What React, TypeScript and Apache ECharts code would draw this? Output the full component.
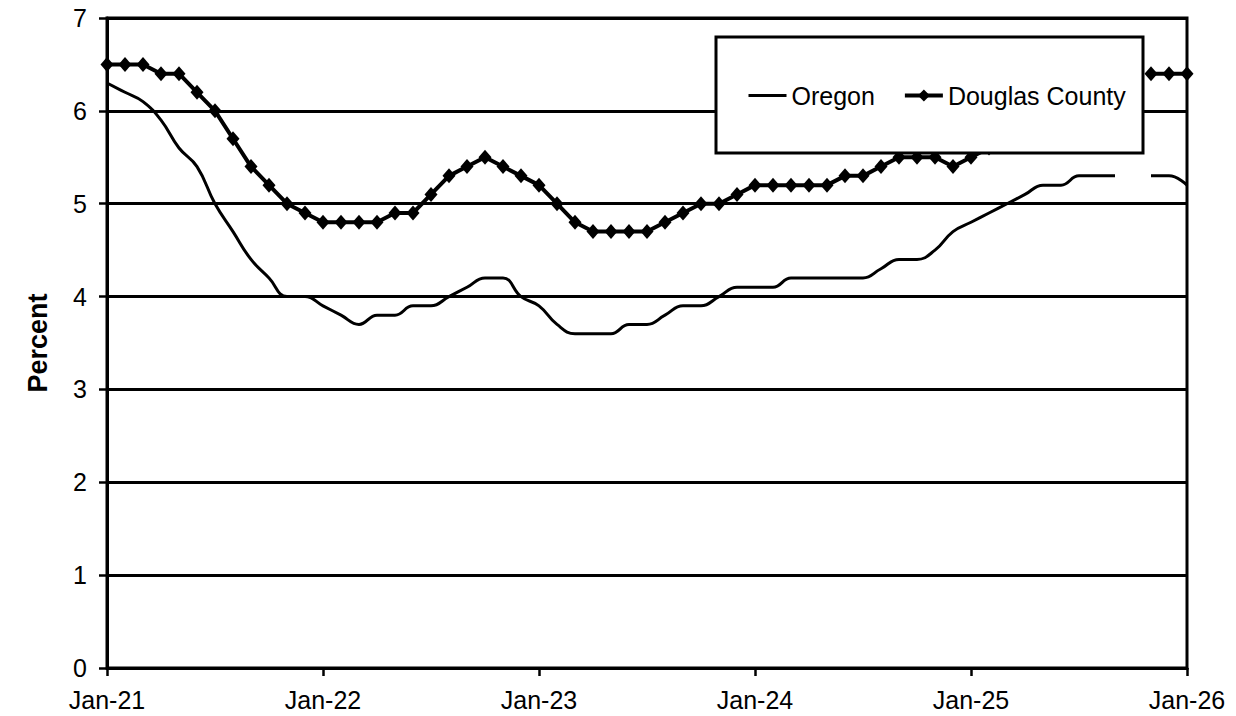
import React, { useEffect, useRef } from "react";
import * as echarts from "echarts";

const years = ["21", "22", "23", "24", "25"];
const monthNames = ["Jan", "Feb", "Mar", "Apr", "May", "Jun", "Jul", "Aug", "Sep", "Oct", "Nov", "Dec"];
const months: string[] = [];
years.forEach((y) => monthNames.forEach((m) => months.push(`${m}-${y}`)));
months.push("Jan-26");

const oregon: (number | null)[] = [
  6.3, 6.2, 6.1, 5.9, 5.6, 5.4, 5.0, 4.7, 4.4, 4.2, 4.0, 4.0,
  3.9, 3.8, 3.7, 3.8, 3.8, 3.9, 3.9, 4.0, 4.1, 4.2, 4.2, 4.0,
  3.9, 3.7, 3.6, 3.6, 3.6, 3.7, 3.7, 3.8, 3.9, 3.9, 4.0, 4.1,
  4.1, 4.1, 4.2, 4.2, 4.2, 4.2, 4.2, 4.3, 4.4, 4.4, 4.5, 4.7,
  4.8, 4.9, 5.0, 5.1, 5.2, 5.2, 5.3, 5.3, 5.3, null, 5.3, 5.3,
  5.2,
];

const douglas: (number | null)[] = [
  6.5, 6.5, 6.5, 6.4, 6.4, 6.2, 6.0, 5.7, 5.4, 5.2, 5.0, 4.9,
  4.8, 4.8, 4.8, 4.8, 4.9, 4.9, 5.1, 5.3, 5.4, 5.5, 5.4, 5.3,
  5.2, 5.0, 4.8, 4.7, 4.7, 4.7, 4.7, 4.8, 4.9, 5.0, 5.0, 5.1,
  5.2, 5.2, 5.2, 5.2, 5.2, 5.3, 5.3, 5.4, 5.5, 5.5, 5.5, 5.4,
  5.5, 5.6, 5.7, 5.8, 5.9, 6.0, 6.1, 6.2, 6.3, null, 6.4, 6.4,
  6.4,
];

const FONT = "'Liberation Sans', Arial, sans-serif";

export default function App() {
  const ref = useRef<HTMLDivElement>(null);
  useEffect(() => {
    document.body.style.margin = "0";
    const chart = echarts.init(ref.current!, null, { renderer: "svg" });
    chart.setOption({
      animation: false,
      backgroundColor: "#fff",
      textStyle: { fontFamily: FONT, color: "#000" },
      grid: {
        left: 107,
        right: 49,
        top: 18,
        bottom: 48,
        show: true,
        borderColor: "#000",
        borderWidth: 3,
        containLabel: false,
      },
      graphic: [
        {
          type: "rect",
          z: 10,
          shape: { x: 716, y: 37, width: 427, height: 116 },
          style: { fill: "#fff", stroke: "#000", lineWidth: 3 },
        },
      ],
      legend: {
        data: [
          { name: "Oregon", itemStyle: { opacity: 0 }, lineStyle: { width: 3 } },
          { name: "Douglas County", lineStyle: { width: 4 } },
        ],
        left: 747,
        top: 83,
        padding: 0,
        z: 20,
        itemWidth: 38,
        itemHeight: 15,
        itemGap: 28,
        textStyle: { fontSize: 25, color: "#000", fontFamily: FONT },
      },
      xAxis: {
        type: "category",
        data: months,
        boundaryGap: false,
        axisLine: { lineStyle: { color: "#000", width: 3 } },
        axisTick: { interval: 11, length: 8, lineStyle: { color: "#000", width: 2.5 } },
        axisLabel: { interval: 11, fontSize: 25, color: "#000", margin: 19, fontFamily: FONT },
        splitLine: { show: false },
      },
      yAxis: {
        type: "value",
        min: 0,
        max: 7,
        interval: 1,
        name: "Percent",
        nameLocation: "middle",
        nameGap: 56,
        nameTextStyle: { fontSize: 27, fontWeight: "bold", color: "#000", fontFamily: FONT },
        axisLine: { show: true, lineStyle: { color: "#000", width: 3 } },
        axisTick: { show: true, length: 8, lineStyle: { color: "#000", width: 2.5 } },
        axisLabel: { fontSize: 25, color: "#000", margin: 20, fontFamily: FONT },
        splitLine: { show: true, lineStyle: { color: "#000", width: 3 } },
      },
      series: [
        {
          name: "Oregon",
          type: "line",
          data: oregon,
          smooth: 0.45,
          symbol: "none",
          connectNulls: false,
          lineStyle: { color: "#000", width: 3 },
          itemStyle: { color: "#000" },
        },
        {
          name: "Douglas County",
          type: "line",
          data: douglas,
          symbol: "diamond",
          symbolSize: [13, 15],
          showAllSymbol: true,
          connectNulls: false,
          lineStyle: { color: "#000", width: 4 },
          itemStyle: { color: "#000" },
        },
      ],
    });
    return () => chart.dispose();
  }, []);
  return <div ref={ref} style={{ width: 1236, height: 716 }} />;
}
